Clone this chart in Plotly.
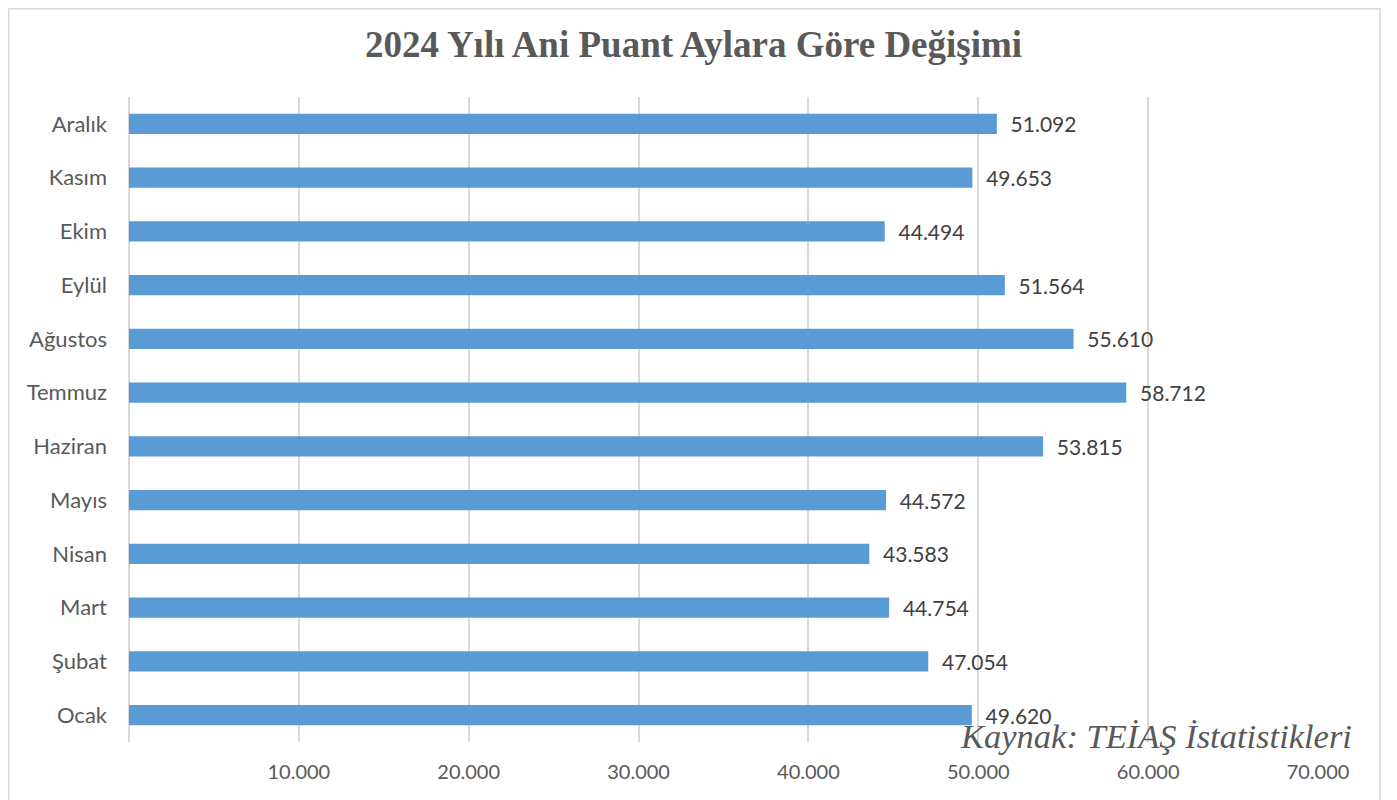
import plotly.graph_objects as go

months = ["Ocak", "Şubat", "Mart", "Nisan", "Mayıs", "Haziran",
          "Temmuz", "Ağustos", "Eylül", "Ekim", "Kasım", "Aralık"]
peak_mw = [49620, 47054, 44754, 43583, 44572, 53815,
           58712, 55610, 51564, 44494, 49653, 51092]
tick_vals = [10000, 20000, 30000, 40000, 50000, 60000, 70000]
tick_text = ["10.000", "20.000", "30.000", "40.000", "50.000", "60.000", "70.000"]
title_text = "2024 Yılı Ani Puant Aylara Göre Değişimi"
source_text = "Kaynak: TEİAŞ İstatistikleri"

labels = ["\u00a0\u00a0" + f"{v:,.0f}".replace(",", ".") for v in peak_mw]

# page body has an 8px margin; figure coordinates = reference pixels - 8
OFF = 8
L, R, T, B = 129 - OFF, 1318 - OFF, 97 - OFF, 742 - OFF
W, H = 1397 - OFF, 800 - OFF
PW, PH = R - L, B - T

def px(x):
    return (x - OFF - L) / PW

def py(y):
    return (B - (y - OFF)) / PH

fig = go.Figure(go.Bar(
    x=peak_mw, y=months, orientation="h",
    marker=dict(color="#5B9BD5", line=dict(width=0)),
    text=labels, textposition="outside", cliponaxis=False, constraintext="none",
    textfont=dict(family="Lato, Carlito, sans-serif", size=21, color="#404040"),
    hoverinfo="skip",
))

fig.update_layout(
    width=W, height=H,
    margin=dict(l=L, r=W - R, t=T, b=H - B),
    paper_bgcolor="white", plot_bgcolor="white",
    bargap=0.62,
    showlegend=False,
    font=dict(family="Lato, Carlito, sans-serif", size=20, color="#595959"),
    xaxis=dict(range=[0, 70000], tickvals=tick_vals, ticktext=tick_text,
               showgrid=True, gridcolor="#D9D9D9", gridwidth=1.5,
               zeroline=True, zerolinecolor="#D9D9D9", zerolinewidth=1.5,
               showline=False, ticks="", ticklabelstandoff=16,
               tickfont=dict(size=20, color="#595959")),
    yaxis=dict(categoryorder="array", categoryarray=months,
               showgrid=False, showline=False, ticks="", ticklabelstandoff=21,
               tickfont=dict(size=22, color="#595959")),
    annotations=[
        dict(text=title_text, x=px(693), xref="paper", xanchor="center",
             y=py(45), yref="paper", yanchor="middle", showarrow=False,
             font=dict(family="Liberation Serif, Times New Roman, serif", size=37,
                       color="#595959", weight="bold")),
        dict(text=f"<i>{source_text}</i>", x=px(1354), xref="paper", xanchor="right",
             y=py(736), yref="paper", yanchor="middle", showarrow=False,
             font=dict(family="Liberation Serif, Times New Roman, serif", size=34.5, color="#595959")),
    ],
    shapes=[
        dict(type="rect", xref="paper", yref="paper",
             x0=(0.75 - L) / PW, x1=px(1380), y0=py(830), y1=(B - 0.75) / PH,
             line=dict(color="#D9D9D9", width=1.5), layer="below"),
    ],
)

fig.write_html("out.html")
